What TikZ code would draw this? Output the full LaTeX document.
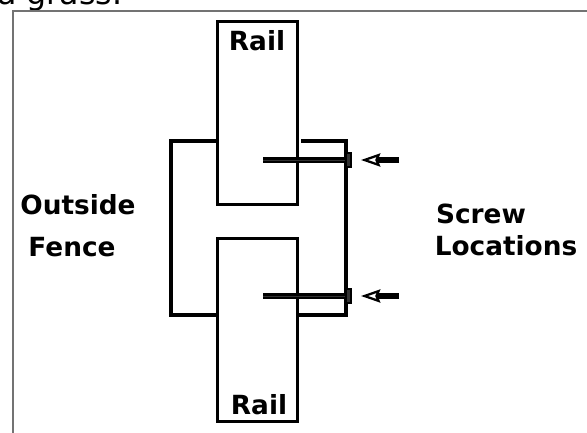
\documentclass[tikz,border=0pt]{standalone}
\usepackage{xcolor}
\usepackage{fontspec}
\usepackage{tikz}
\usetikzlibrary{arrows.meta}
\setmainfont{DejaVu Sans}
\definecolor{framegray}{RGB}{115, 115, 115}
\definecolor{screwgray}{RGB}{50, 50, 50}
\tikzset{
  railbox/.style={draw, line width=1.8pt, minimum width=46pt, minimum height=104.5pt, inner sep=0pt},
  fenceline/.style={line width=2.1pt, line join=miter},
  screwshaft/.style={line width=3pt},
  screwcore/.style={screwgray, line width=0.5pt},
  screwhead/.style={draw, fill=screwgray, line width=0.8pt, minimum width=3pt, minimum height=8pt, inner sep=0pt},
  pointer/.style={line width=3pt, -{Stealth[open, fill=white, length=11pt, inset=1.5pt, width=7.5pt, line width=1.3pt]}},
  caption/.style={font=\bfseries\fontsize{15}{17}\selectfont, inner sep=0pt}
}
\begin{document}
\begin{tikzpicture}[x=0.02cm, y=-0.02cm]
                \useasboundingbox (0,0) rectangle (587,432);
                % Cut-off line above the frame
                \begin{scope}
                \clip (0,0) rectangle (587,432);
                \node[font=\fontsize{18}{20}\selectfont, inner sep=0pt, anchor=base west] (topline) at (-3,5) {a grass.};
                \end{scope}
                % Outer frame
                \draw[framegray, line width=0.8pt] (13,440) -- (13,11) -- (595,11);
                
                % Rails
                \node[railbox] (upperrail) at (257.5,113) {};
                \node[railbox] (lowerrail) at (257.5,330) {};
                \node[caption] (uppername) at (257,41) {Rail};
                \node[caption] (lowername) at (259,405) {Rail};
                
                % Outside fence
                \draw[fenceline] (217,141) -- (171,141) -- (171,315) -- (217,315);
                \draw[fenceline] (301,141) -- (346,141) -- (346,315) -- (298,315);
                
                % Screws
                \coordinate (upperend) at (263,160);
                \coordinate (lowerend) at (263,296);
                \node[screwhead] (upperhead) at (348.5,160) {};
                \node[screwhead] (lowerhead) at (348.5,296) {};
                \draw[screwshaft] (upperend) -- (upperhead.west);
                \draw[screwshaft] (lowerend) -- (lowerhead.west);
                \draw[screwcore] (upperend) -- (upperhead.west);
                \draw[screwcore] (lowerend) -- (lowerhead.west);
                
                % Arrows to the screws
                \coordinate (uppertail) at (399,160);
                \coordinate (lowertail) at (399,296);
                \coordinate (uppertip) at (361,160);
                \coordinate (lowertip) at (361,296);
                \draw[pointer] (uppertail) -- (uppertip);
                \draw[pointer] (lowertail) -- (lowertip);
                
                % Labels
                \node[caption] (outsidename) at (78,205) {Outside};
                \node[caption] (fencename) at (72,247) {Fence};
                \node[caption] (screwname) at (481,214) {Screw};
                \node[caption] (locationsname) at (506,246) {Locations};
            \end{tikzpicture}
\end{document}
